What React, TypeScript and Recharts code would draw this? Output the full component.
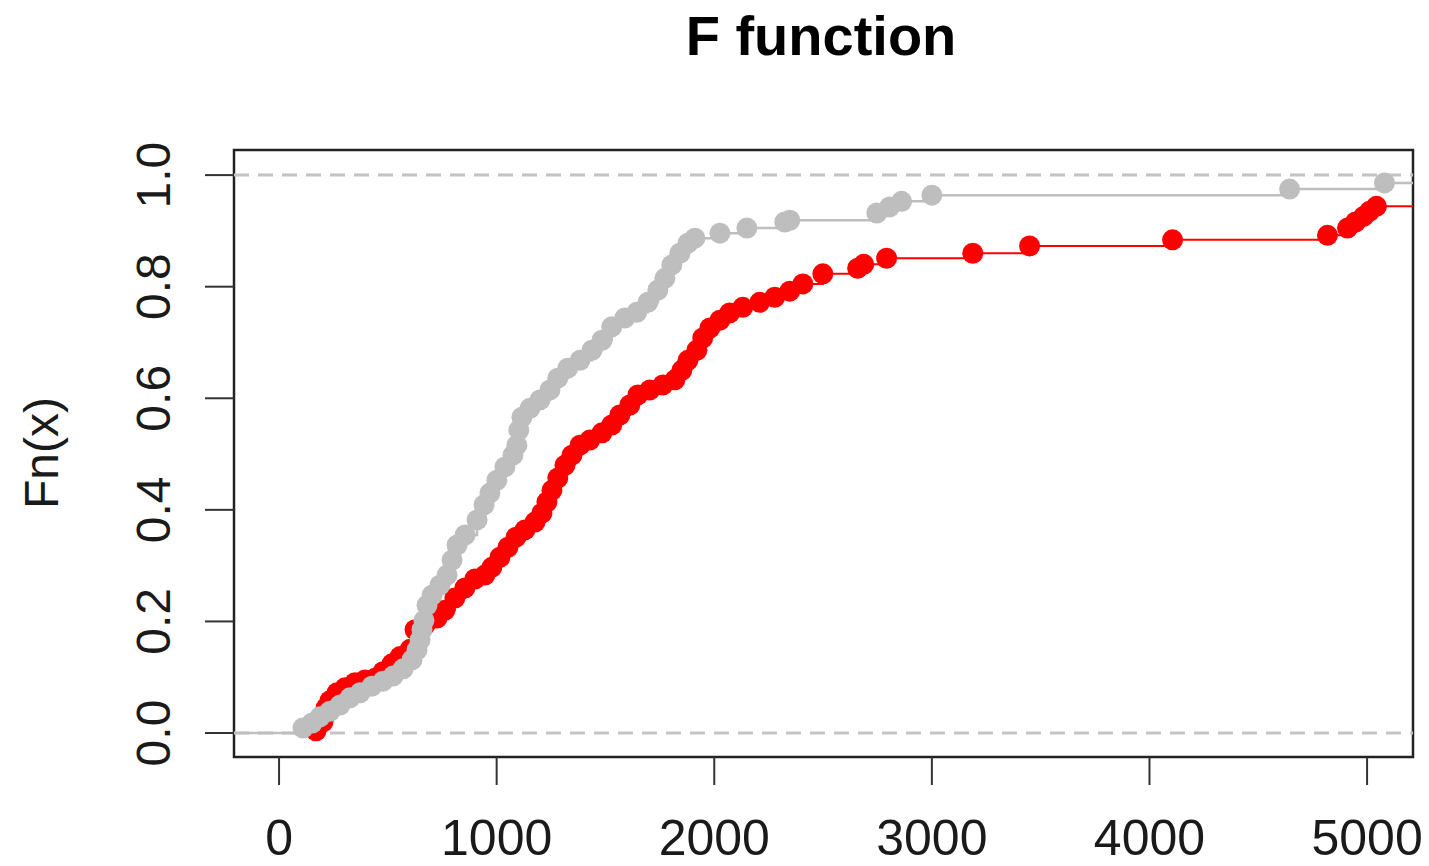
import React from "react";
import {
  LineChart,
  Line,
  XAxis,
  YAxis,
  ReferenceLine,
  ReferenceArea,
} from "recharts";

const redX = [
  170, 202, 216, 234, 266, 303, 349, 395, 441, 478, 519, 556, 602, 625, 671,
  726, 762, 808, 854, 900, 946, 978, 1015, 1052, 1089, 1130, 1176, 1208, 1231,
  1254, 1281, 1314, 1346, 1383, 1428, 1484, 1529, 1566, 1612, 1649, 1704, 1764,
  1819, 1851, 1879, 1920, 1947, 1980, 2026, 2071, 2131, 2209, 2278, 2347, 2407,
  2499, 2659, 2687, 2792, 3188, 3449, 4106, 4818, 4910, 4947, 4984, 5011, 5043,
];
const redY = [
  0.004, 0.02, 0.045, 0.058, 0.072, 0.081, 0.09, 0.095, 0.098, 0.11, 0.124,
  0.137, 0.15, 0.185, 0.194, 0.206, 0.22, 0.242, 0.26, 0.276, 0.283, 0.297,
  0.315, 0.333, 0.351, 0.364, 0.378, 0.394, 0.414, 0.435, 0.457, 0.48, 0.498,
  0.516, 0.525, 0.538, 0.552, 0.57, 0.588, 0.606, 0.615, 0.624, 0.633, 0.65,
  0.668, 0.686, 0.708, 0.726, 0.74, 0.753, 0.763, 0.772, 0.781, 0.792, 0.805,
  0.823, 0.833, 0.84, 0.851, 0.86, 0.873, 0.884, 0.892, 0.905, 0.916, 0.926,
  0.935, 0.944,
];

const grayX = [
  110, 152, 188, 234, 280, 326, 372, 427, 478, 524, 570, 611, 634, 648, 657,
  666, 680, 703, 739, 772, 795, 818, 855, 910, 942, 969, 1001, 1038, 1075, 1093,
  1102, 1116, 1153, 1199, 1245, 1281, 1327, 1383, 1438, 1484, 1529, 1589, 1644,
  1695, 1741, 1773, 1805, 1842, 1879, 1911, 2026, 2150, 2324, 2347, 2747, 2806,
  2861, 3000, 4644, 5080,
];
const grayY = [
  0.009, 0.018, 0.029, 0.039, 0.05, 0.063, 0.072, 0.084, 0.093, 0.102, 0.115,
  0.131, 0.149, 0.167, 0.185, 0.202, 0.229, 0.247, 0.265, 0.283, 0.31, 0.337,
  0.355, 0.382, 0.409, 0.43, 0.453, 0.477, 0.498, 0.516, 0.543, 0.566, 0.582,
  0.597, 0.615, 0.636, 0.654, 0.668, 0.686, 0.704, 0.728, 0.744, 0.754, 0.772,
  0.794, 0.815, 0.839, 0.86, 0.878, 0.887, 0.896, 0.905, 0.916, 0.919, 0.932,
  0.943, 0.953, 0.964, 0.975, 0.986,
];

const xTicks = [0, 1000, 2000, 3000, 4000, 5000];
const yTicks = [0, 0.2, 0.4, 0.6, 0.8, 1];
const yTickLabels = ["0.0", "0.2", "0.4", "0.6", "0.8", "1.0"];

const X_MIN = -207;
const X_MAX = 5211;
const Y_MIN = -0.043;
const Y_MAX = 1.045;

const FONT = "'Liberation Sans', Arial, Helvetica, sans-serif";

type Pt = { x: number; y: number; edge?: boolean };

// step line runs from the left edge at 0 and on past the last point to the right edge
const buildSeries = (xs: number[], ys: number[]): Pt[] => [
  { x: X_MIN, y: 0, edge: true },
  ...xs.map((x, i) => ({ x, y: ys[i] })),
  { x: X_MAX, y: ys[ys.length - 1], edge: true },
];

const redData = buildSeries(redX, redY);
const grayData = buildSeries(grayX, grayY);

const makeDot = (color: string) => (props: any) => {
  const { cx, cy, payload, index } = props;
  if (payload.edge) return <g key={`e-${index}`} />;
  return <circle key={`d-${index}`} cx={cx} cy={cy} r={10.5} fill={color} />;
};

const XTick = (props: any) => {
  const { x, y, payload } = props;
  return (
    <text
      x={x}
      y={y + 70}
      textAnchor="middle"
      fontFamily={FONT}
      fontSize={50}
      fill="#1a1a1a"
    >
      {payload.value}
    </text>
  );
};

const YTick = (props: any) => {
  const { x, y, payload } = props;
  const idx = yTicks.indexOf(payload.value);
  const bx = x - 35;
  return (
    <text
      x={bx}
      y={y}
      transform={`rotate(-90, ${bx}, ${y})`}
      textAnchor="middle"
      fontFamily={FONT}
      fontSize={48}
      fill="#1a1a1a"
    >
      {idx >= 0 ? yTickLabels[idx] : payload.value}
    </text>
  );
};

export default function App() {
  return (
    <div
      style={{
        position: "absolute",
        left: 0,
        top: 0,
        width: 1429,
        height: 866,
        background: "#fff",
        fontFamily: FONT,
      }}
    >
      <div
        style={{
          position: "absolute",
          left: 0,
          width: 1642,
          top: 4,
          textAlign: "center",
          fontSize: 56,
          fontWeight: "bold",
          color: "#000",
          lineHeight: "64px",
        }}
      >
        F function
      </div>
      <div
        style={{
          position: "absolute",
          left: 42,
          top: 453,
          transform: "translate(-50%, -50%) rotate(-90deg)",
          fontSize: 48,
          color: "#1a1a1a",
          whiteSpace: "nowrap",
          lineHeight: "48px",
        }}
      >
        Fn(x)
      </div>
      <LineChart
        width={1429}
        height={866}
        margin={{ top: 150, right: 16, left: 0, bottom: 0 }}
      >
        <XAxis
          type="number"
          dataKey="x"
          domain={[X_MIN, X_MAX]}
          ticks={xTicks}
          allowDataOverflow
          axisLine={false}
          tickLine={{ stroke: "#333", strokeWidth: 2 }}
          tickSize={28}
          tickMargin={0}
          height={109}
          tick={<XTick />}
        />
        <YAxis
          type="number"
          domain={[Y_MIN, Y_MAX]}
          ticks={yTicks}
          allowDataOverflow
          axisLine={false}
          tickLine={{ stroke: "#333", strokeWidth: 2 }}
          tickSize={29}
          tickMargin={0}
          width={234}
          tick={<YTick />}
        />
        <ReferenceLine
          y={0}
          stroke="#c4c4c4"
          strokeWidth={3}
          strokeDasharray="15 9"
        />
        <ReferenceLine
          y={1}
          stroke="#c4c4c4"
          strokeWidth={3}
          strokeDasharray="15 9"
        />
        <Line
          data={redData}
          dataKey="y"
          type="stepAfter"
          stroke="#ff0000"
          strokeWidth={2}
          dot={makeDot("#ff0000")}
          activeDot={false}
          isAnimationActive={false}
        />
        <Line
          data={grayData}
          dataKey="y"
          type="stepAfter"
          stroke="#bebebe"
          strokeWidth={2.5}
          dot={makeDot("#bebebe")}
          activeDot={false}
          isAnimationActive={false}
        />
        <ReferenceArea
          x1={X_MIN}
          x2={X_MAX}
          y1={Y_MIN}
          y2={Y_MAX}
          fill="none"
          fillOpacity={0}
          stroke="#222"
          strokeWidth={2.5}
          ifOverflow="visible"
        />
      </LineChart>
    </div>
  );
}
